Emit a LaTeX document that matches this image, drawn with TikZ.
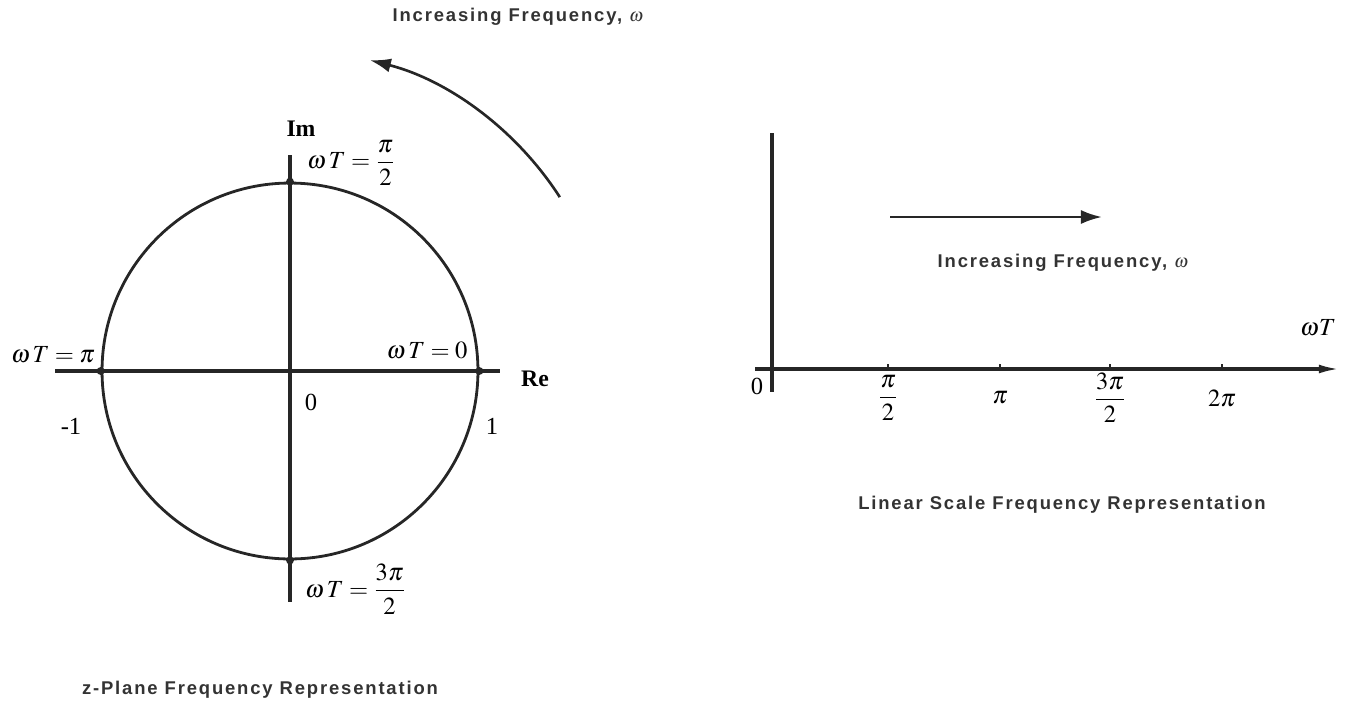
\documentclass[tikz,border=0pt]{standalone}
\usepackage{amsmath}
\usepackage{mathptmx}
\usepackage[no-math]{fontspec}
\setmainfont{Liberation Serif}
\newfontfamily\capfont[LetterSpace=10]{Liberation Sans}
\usepackage{tikz}
\usetikzlibrary{arrows.meta,positioning,calc}
\tikzset{
  plane-axis/.style={draw=black!85, line width=1.8pt},
  unit-circle/.style={draw=black!85, line width=1.6pt, circle, minimum size=7.52cm, inner sep=0pt},
  axis-dot/.style={circle, fill=black!85, inner sep=0pt, minimum size=4.5pt},
  freq-arrow/.style={draw=black!85, line width=1.5pt, -{Latex[length=12pt,width=8pt]}},
  math-label/.style={font=\fontsize{14}{17}\selectfont, inner sep=1pt},
  axis-label/.style={font=\fontsize{13.5}{16}\selectfont\bfseries, inner sep=1pt},
  caption-label/.style={font=\capfont\fontsize{10.5}{12}\selectfont\bfseries, text=black!80, inner sep=0pt},
  tick-mark/.style={draw=black!85, line width=1.2pt}
}

\begin{document}
\begin{tikzpicture}[x=0.02cm, y=-0.02cm]
  \useasboundingbox (0,0) rectangle (1353,711);

  % z-plane: unit circle and axes
  \coordinate (zo) at (290,371);
  \node[unit-circle] (ucirc) at (zo) {};
  \coordinate (re-left) at (55,371);
  \coordinate (re-right) at (500,371);
  \coordinate (im-top) at (290,155);
  \coordinate (im-bot) at (290,602);
  \draw[plane-axis] (re-left) -- (re-right);
  \draw[plane-axis] (im-top) -- (im-bot);
  \foreach \a in {0,90,180,270}
    \node[axis-dot] at (ucirc.\a) {};

  \node[axis-label] (im) at (301,129) {Im};
  \node[axis-label] (re) at (535,379) {Re};
  \node[math-label] (origin) at (311,402) {0};
  \node[math-label] (one) at (492,426) {1};
  \node[math-label] (minus-one) at (71,426) {-1};
  \node[math-label, anchor=west] (wt-half) at (305,163)
    {$\omega\,T = \dfrac{\pi}{2}$};
  \node[math-label] (wt-pi) at (53,355) {$\omega\,T = \pi$};
  \node[math-label] (wt-zero) at (427,350) {$\omega\,T = 0$};
  \node[math-label, anchor=west] (wt-three) at (303,589)
    {$\omega\,T = \dfrac{3\pi}{2}$};

  % direction of increasing frequency round the circle
  \coordinate (arc-start) at ($(zo)+(-32.8:321)$);
  \draw[freq-arrow] (arc-start) arc[start angle=-32.8, end angle=-75.6, radius=321];
  \node[caption-label] (z-incr) at (518,17) {Increasing Frequency, $\omega$};
  \node[caption-label] (z-title) at (260,690) {z-Plane Frequency Representation};

  % linear frequency axis
  \coordinate (lin-top) at (772,133);
  \coordinate (lin-bot) at (772,392);
  \coordinate (lin-left) at (755,369);
  \coordinate (lin-right) at (1340,369);
  \draw[plane-axis] (lin-top) -- (lin-bot);
  \draw[plane-axis, -{Latex[length=12pt,width=5pt]}] (lin-left) -- (lin-right);
  \foreach \x/\lab [count=\i] in {888/{\dfrac{\pi}{2}}, 1000/{\pi}, 1110/{\dfrac{3\pi}{2}}, 1222/{2\pi}} {
    \draw[tick-mark] (\x,369) -- ++(0,-5);
    \node[math-label] (tick\i) at (\x,398) {$\lab$};
  }
  \node[math-label] (lin-zero) at (757,386) {0};
  \node[math-label] (lin-wt) at (1318,328) {$\omega T$};

  \coordinate (fa-start) at (890,217);
  \coordinate (fa-end) at (1102,217);
  \draw[freq-arrow] (fa-start) -- (fa-end);
  \node[caption-label] (lin-incr) at (1063,263) {Increasing Frequency, $\omega$};
  \node[caption-label] (lin-title) at (1062,505) {Linear Scale Frequency Representation};
\end{tikzpicture}
\end{document}
